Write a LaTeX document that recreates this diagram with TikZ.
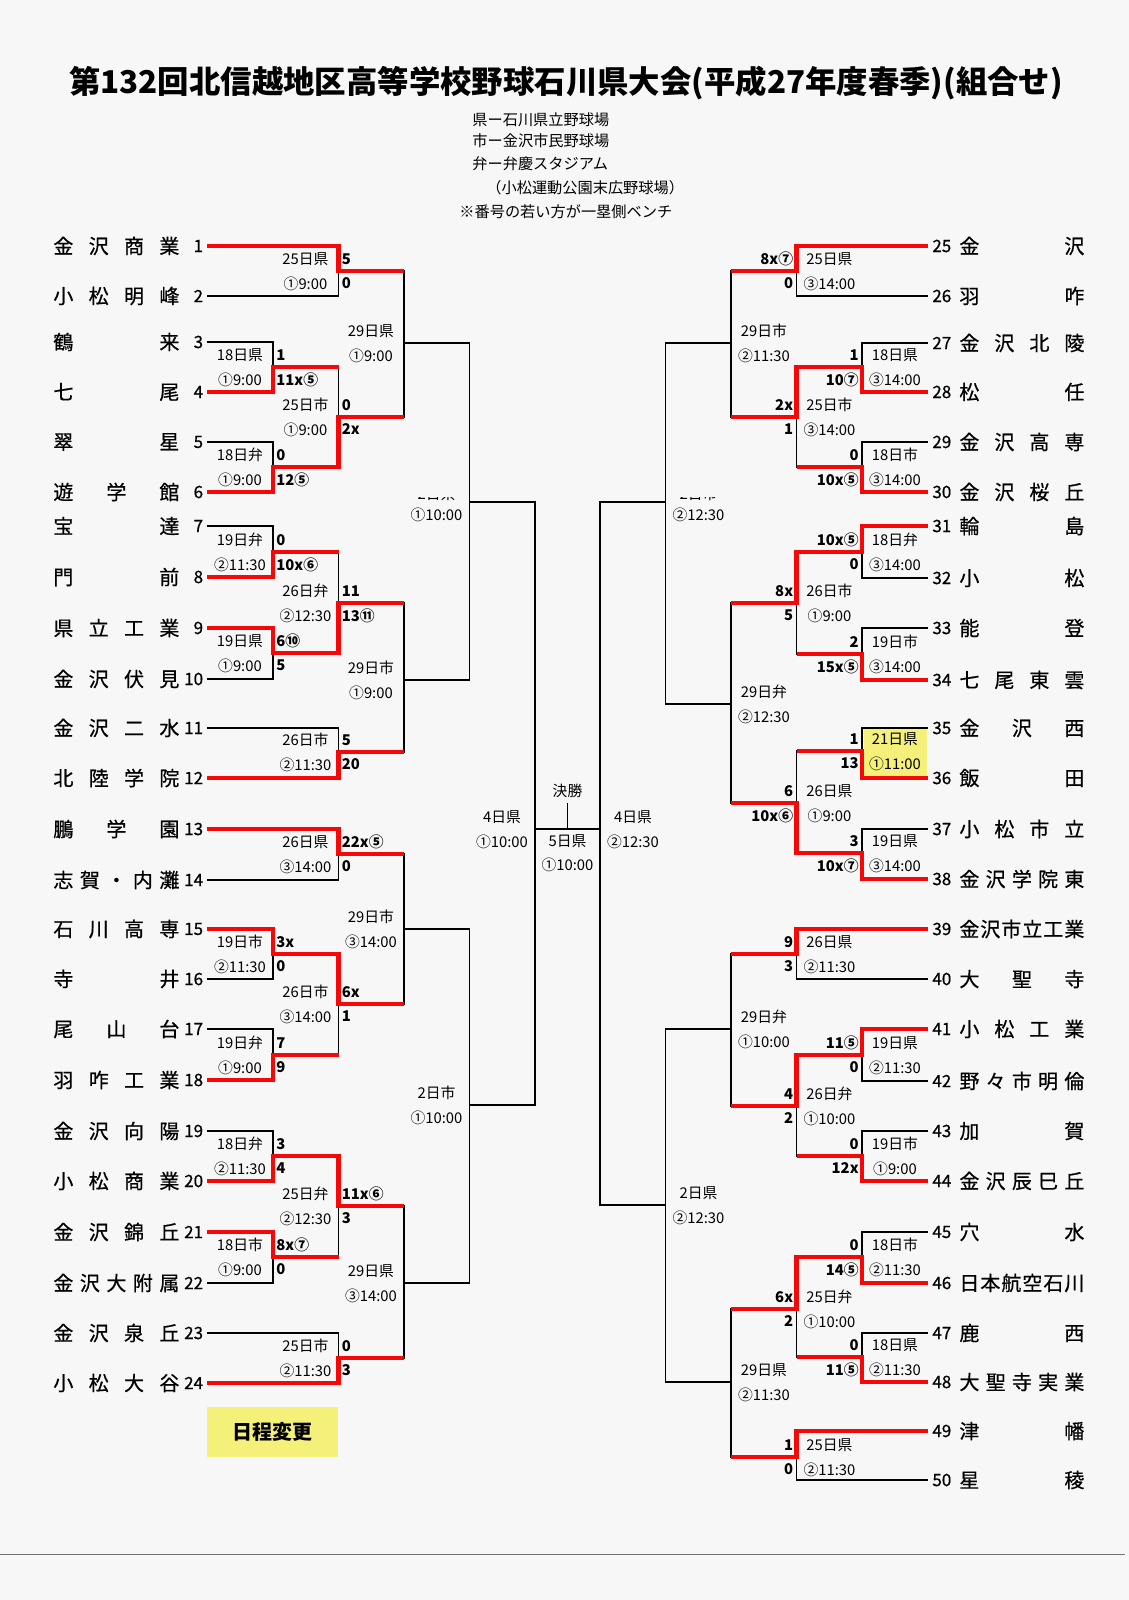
\documentclass[tikz,border=0pt]{standalone}
\usepackage{fontspec}
\usepackage{graphicx}
\setmainfont{Noto Sans CJK JP}
\newfontfamily\nmfont{Noto Sans CJK JP}[FakeBold=0.6]
\definecolor{bg}{RGB}{247,247,247}
\definecolor{bred}{RGB}{245,8,8}
\definecolor{yel}{RGB}{244,240,122}
\newcommand\teamL[3]{%
  \coordinate (t#1) at (207,#2);
  \node[num,anchor=east] (k#1) at (203.5,#2) {#1};
  \node[nm,anchor=west] (n#1) at (53,#2) {\makebox[63pt][s]{#3}};}
\newcommand\teamR[3]{%
  \coordinate (t#1) at (927.5,#2);
  \node[num,anchor=west] (k#1) at (932,#2) {#1};
  \node[nm,anchor=west] (n#1) at (959,#2) {\makebox[62.5pt][s]{#3}};}
\newcommand\glabL[3]{%
  \node[lab] (#1a) at ([shift={(-33,-12)}]#1) {#2};
  \node[lab] (#1b) at ([shift={(-33,12.5)}]#1) {#3};}
\newcommand\glabR[3]{%
  \node[lab] (#1a) at ([shift={(33,-12)}]#1) {#2};
  \node[lab] (#1b) at ([shift={(33,12.5)}]#1) {#3};}
\newcommand\gscL[3]{%
  \node[sc,anchor=west] (#1u) at ([shift={(3,-12)}]#1) {#2};
  \node[sc,anchor=west] (#1v) at ([shift={(3,12.5)}]#1) {#3};}
\newcommand\gscR[3]{%
  \node[sc,anchor=east] (#1u) at ([shift={(-3,-12)}]#1) {#2};
  \node[sc,anchor=east] (#1v) at ([shift={(-3,12.5)}]#1) {#3};}
\tikzset{
  lab/.style={font=\fontsize{7.4}{8}\selectfont, inner sep=0pt},
  sc/.style={font=\fontsize{7.4}{8}\selectfont\bfseries, inner sep=0pt},
  nm/.style={font=\nmfont\fontsize{10}{11}\selectfont, inner sep=0pt},
  num/.style={font=\nmfont\fontsize{8.5}{9}\selectfont, inner sep=0pt},
  note/.style={font=\fontsize{7.6}{8}\selectfont, inner sep=0pt},
  bl/.style={line width=0.9pt, black},
  rd/.style={line width=2.2pt, bred, line join=miter},
}
\begin{document}
\begin{tikzpicture}[x=0.5pt,y=-0.5pt]
\useasboundingbox (0,0) rectangle (1129,1600);
\fill[bg] (0,0) rectangle (1129,1600);

% ---------- title and notes ----------
\node[inner sep=0pt,font=\fontsize{15.7}{16}\selectfont\bfseries] (title) at (566,83)
  {第132回北信越地区高等学校野球石川県大会(平成27年度春季)(組合せ)};
\node[note,anchor=west] (note1) at (472,120) {県ー石川県立野球場};
\node[note,anchor=west] (note2) at (472,141) {市ー金沢市民野球場};
\node[note,anchor=west] (note3) at (472,164) {弁ー弁慶スタジアム};
\node[note,anchor=west] (note4) at (486,188) {（小松運動公園末広野球場）};
\node[note,anchor=west] (note5) at (459,212) {※番号の若い方が一塁側ベンチ};

% ---------- teams ----------
\teamL{1}{246}{金\hfill 沢\hfill 商\hfill 業}
\teamL{2}{296}{小\hfill 松\hfill 明\hfill 峰}
\teamL{3}{342}{鶴\hfill 来}
\teamL{4}{392}{七\hfill 尾}
\teamL{5}{442}{翠\hfill 星}
\teamL{6}{492}{遊\hfill 学\hfill 館}
\teamL{7}{526}{宝\hfill 達}
\teamL{8}{577}{門\hfill 前}
\teamL{9}{628}{県\hfill 立\hfill 工\hfill 業}
\teamL{10}{679}{金\hfill 沢\hfill 伏\hfill 見}
\teamL{11}{728}{金\hfill 沢\hfill 二\hfill 水}
\teamL{12}{778}{北\hfill 陸\hfill 学\hfill 院}
\teamL{13}{829}{鵬\hfill 学\hfill 園}
\teamL{14}{880}{志\hfill 賀\hfill ・\hfill 内\hfill 灘}
\teamL{15}{929}{石\hfill 川\hfill 高\hfill 専}
\teamL{16}{979}{寺\hfill 井}
\teamL{17}{1029}{尾\hfill 山\hfill 台}
\teamL{18}{1080}{羽\hfill 咋\hfill 工\hfill 業}
\teamL{19}{1131}{金\hfill 沢\hfill 向\hfill 陽}
\teamL{20}{1181}{小\hfill 松\hfill 商\hfill 業}
\teamL{21}{1232}{金\hfill 沢\hfill 錦\hfill 丘}
\teamL{22}{1283}{金\hfill 沢\hfill 大\hfill 附\hfill 属}
\teamL{23}{1333}{金\hfill 沢\hfill 泉\hfill 丘}
\teamL{24}{1383}{小\hfill 松\hfill 大\hfill 谷}

\teamR{25}{246}{金\hfill 沢}
\teamR{26}{296}{羽\hfill 咋}
\teamR{27}{343}{金\hfill 沢\hfill 北\hfill 陵}
\teamR{28}{392}{松\hfill 任}
\teamR{29}{442}{金\hfill 沢\hfill 高\hfill 専}
\teamR{30}{492}{金\hfill 沢\hfill 桜\hfill 丘}
\teamR{31}{526}{輪\hfill 島}
\teamR{32}{578}{小\hfill 松}
\teamR{33}{628}{能\hfill 登}
\teamR{34}{680}{七\hfill 尾\hfill 東\hfill 雲}
\teamR{35}{728}{金\hfill 沢\hfill 西}
\teamR{36}{778}{飯\hfill 田}
\teamR{37}{829}{小\hfill 松\hfill 市\hfill 立}
\teamR{38}{879}{金\hfill 沢\hfill 学\hfill 院\hfill 東}
\teamR{39}{929}{金\hfill 沢\hfill 市\hfill 立\hfill 工\hfill 業}
\teamR{40}{979}{大\hfill 聖\hfill 寺}
\teamR{41}{1029}{小\hfill 松\hfill 工\hfill 業}
\teamR{42}{1081}{野\hfill 々\hfill 市\hfill 明\hfill 倫}
\teamR{43}{1131}{加\hfill 賀}
\teamR{44}{1181}{金\hfill 沢\hfill 辰\hfill 巳\hfill 丘}
\teamR{45}{1232}{穴\hfill 水}
\teamR{46}{1283}{日\hfill 本\hfill 航\hfill 空\hfill 石\hfill 川}
\teamR{47}{1333}{鹿\hfill 西}
\teamR{48}{1382}{大\hfill 聖\hfill 寺\hfill 実\hfill 業}
\teamR{49}{1431}{津\hfill 幡}
\teamR{50}{1480}{星\hfill 稜}

% ---------- game points ----------
\coordinate (gA) at (338.5,271);  \coordinate (gB) at (273,367);
\coordinate (gC) at (273,467);    \coordinate (gD) at (338.5,417);
\coordinate (gE) at (404,343);    \coordinate (gF) at (273,552);
\coordinate (gG) at (273,653);    \coordinate (gH) at (338.5,603);
\coordinate (gI) at (338.5,752);  \coordinate (gJ) at (404,680);
\coordinate (gK) at (469.5,502);  \coordinate (gL) at (338.5,854);
\coordinate (gM) at (273,954);    \coordinate (gN) at (273,1055);
\coordinate (gO) at (338.5,1004); \coordinate (gP) at (404,929);
\coordinate (gQ) at (273,1156);   \coordinate (gR) at (273,1257);
\coordinate (gS) at (338.5,1206); \coordinate (gT) at (338.5,1358);
\coordinate (gU) at (404,1283);   \coordinate (gV) at (469.5,1105);
\coordinate (qL) at (535,829);    \coordinate (qR) at (600,829);
\coordinate (fin) at (567.5,829); \coordinate (finT) at (567.5,803);
\coordinate (hA) at (796.5,271);  \coordinate (hB) at (862,367);
\coordinate (hC) at (862,467);    \coordinate (hD) at (796.5,417);
\coordinate (hE) at (731,343);    \coordinate (hF) at (862,552);
\coordinate (hG) at (862,654);    \coordinate (hH) at (796.5,603);
\coordinate (hI) at (862,751);    \coordinate (hJ) at (862,853);
\coordinate (hK) at (796.5,803);  \coordinate (hL) at (731,704);
\coordinate (hM) at (665.5,502);  \coordinate (hN) at (796.5,954);
\coordinate (hO) at (862,1055);   \coordinate (hP) at (862,1156);
\coordinate (hQ) at (796.5,1106); \coordinate (hR) at (731,1029);
\coordinate (hS) at (862,1257);   \coordinate (hT) at (862,1357);
\coordinate (hU) at (796.5,1309); \coordinate (hV) at (796.5,1457);
\coordinate (hW) at (731,1382);   \coordinate (hX) at (665.5,1205);

% yellow boxes
\fill[yel] (864,729) rectangle (927,777);
\node[fill=yel,minimum width=65.25pt,minimum height=25pt,inner sep=0pt,
  font=\fontsize{10}{11}\selectfont\bfseries] (chg) at (272.25,1432) {日程変更};

% ---------- black bracket ----------
\draw[bl] (t1) -| (gA) |- (t2);   \draw[bl] (t3) -| (gB) |- (t4);
\draw[bl] (t5) -| (gC) |- (t6);   \draw[bl] (gB) -| (gD) |- (gC);
\draw[bl] (gA) -| (gE) |- (gD);   \draw[bl] (t7) -| (gF) |- (t8);
\draw[bl] (t9) -| (gG) |- (t10);  \draw[bl] (gF) -| (gH) |- (gG);
\draw[bl] (t11) -| (gI) |- (t12); \draw[bl] (gH) -| (gJ) |- (gI);
\draw[bl] (gE) -| (gK) |- (gJ);   \draw[bl] (t13) -| (gL) |- (t14);
\draw[bl] (t15) -| (gM) |- (t16); \draw[bl] (t17) -| (gN) |- (t18);
\draw[bl] (gM) -| (gO) |- (gN);   \draw[bl] (gL) -| (gP) |- (gO);
\draw[bl] (t19) -| (gQ) |- (t20); \draw[bl] (t21) -| (gR) |- (t22);
\draw[bl] (gQ) -| (gS) |- (gR);   \draw[bl] (t23) -| (gT) |- (t24);
\draw[bl] (gS) -| (gU) |- (gT);   \draw[bl] (gP) -| (gV) |- (gU);
\draw[bl] (gK) -| (qL) |- (gV);
\draw[bl] (qL) -- (qR);  \draw[bl] (fin) -- (finT);
\draw[bl] (hM) -| (qR) |- (hX);
\draw[bl] (t25) -| (hA) |- (t26); \draw[bl] (t27) -| (hB) |- (t28);
\draw[bl] (t29) -| (hC) |- (t30); \draw[bl] (hB) -| (hD) |- (hC);
\draw[bl] (hA) -| (hE) |- (hD);   \draw[bl] (t31) -| (hF) |- (t32);
\draw[bl] (t33) -| (hG) |- (t34); \draw[bl] (hF) -| (hH) |- (hG);
\draw[bl] (t35) -| (hI) |- (t36); \draw[bl] (t37) -| (hJ) |- (t38);
\draw[bl] (hI) -| (hK) |- (hJ);   \draw[bl] (hH) -| (hL) |- (hK);
\draw[bl] (hE) -| (hM) |- (hL);   \draw[bl] (t39) -| (hN) |- (t40);
\draw[bl] (t41) -| (hO) |- (t42); \draw[bl] (t43) -| (hP) |- (t44);
\draw[bl] (hO) -| (hQ) |- (hP);   \draw[bl] (hN) -| (hR) |- (hQ);
\draw[bl] (t45) -| (hS) |- (t46); \draw[bl] (t47) -| (hT) |- (t48);
\draw[bl] (hS) -| (hU) |- (hT);   \draw[bl] (t49) -| (hV) |- (t50);
\draw[bl] (hU) -| (hW) |- (hV);   \draw[bl] (hR) -| (hX) |- (hW);

% ---------- red winner lines ----------
\draw[rd] (t1) -| (gA) -- (gE |- gA);
\draw[rd] (t4) -| (gB) -- (gD |- gB);
\draw[rd] (t6) -| (gC) -| (gD) -- (gE |- gD);
\draw[rd] (t8) -| (gF) -- (gH |- gF);
\draw[rd] (t9) -| (gG) -| (gH) -- (gJ |- gH);
\draw[rd] (t12) -| (gI) -- (gJ |- gI);
\draw[rd] (t13) -| (gL) -- (gP |- gL);
\draw[rd] (t15) -| (gM) -| (gO) -- (gP |- gO);
\draw[rd] (t18) -| (gN) -- (gO |- gN);
\draw[rd] (t20) -| (gQ) -| (gS) -- (gU |- gS);
\draw[rd] (t21) -| (gR) -- (gS |- gR);
\draw[rd] (t24) -| (gT) -- (gU |- gT);
\draw[rd] (t25) -| (hA) -- (hE |- hA);
\draw[rd] (t28) -| (hB) -| (hD) -- (hE |- hD);
\draw[rd] (t30) -| (hC) -- (hD |- hC);
\draw[rd] (t31) -| (hF) -| (hH) -- (hL |- hH);
\draw[rd] (t34) -| (hG) -- (hH |- hG);
\draw[rd] (t36) -| (hI) -- (hK |- hI);
\draw[rd] (t38) -| (hJ) -| (hK) -- (hL |- hK);
\draw[rd] (t39) -| (hN) -- (hR |- hN);
\draw[rd] (t41) -| (hO) -| (hQ) -- (hR |- hQ);
\draw[rd] (t44) -| (hP) -- (hQ |- hP);
\draw[rd] (t46) -| (hS) -| (hU) -- (hW |- hU);
\draw[rd] (t48) -| (hT) -- (hU |- hT);
\draw[rd] (t49) -| (hV) -- (hW |- hV);

% ---------- labels left ----------
\glabL{gA}{25日県}{①9:00}   \gscL{gA}{5}{0}
\glabL{gB}{18日県}{①9:00}   \gscL{gB}{1}{11x⑤}
\glabL{gC}{18日弁}{①9:00}   \gscL{gC}{0}{12⑤}
\glabL{gD}{25日市}{①9:00}   \gscL{gD}{0}{2x}
\glabL{gE}{29日県}{①9:00}
\glabL{gF}{19日弁}{②11:30}  \gscL{gF}{0}{10x⑥}
\glabL{gG}{19日県}{①9:00}   \gscL{gG}{6⑩}{5}
\glabL{gH}{26日弁}{②12:30}  \gscL{gH}{11}{13⑪}
\glabL{gI}{26日市}{②11:30}  \gscL{gI}{5}{20}
\glabL{gJ}{29日市}{①9:00}
\node[lab] (gKb) at ([shift={(-33,12.5)}]gK) {①10:00};
\glabL{gL}{26日県}{③14:00}  \gscL{gL}{22x⑤}{0}
\glabL{gM}{19日市}{②11:30}  \gscL{gM}{3x}{0}
\glabL{gN}{19日弁}{①9:00}   \gscL{gN}{7}{9}
\glabL{gO}{26日市}{③14:00}  \gscL{gO}{6x}{1}
\glabL{gP}{29日市}{③14:00}
\glabL{gQ}{18日弁}{②11:30}  \gscL{gQ}{3}{4}
\glabL{gR}{18日市}{①9:00}   \gscL{gR}{8x⑦}{0}
\glabL{gS}{25日弁}{②12:30}  \gscL{gS}{11x⑥}{3}
\glabL{gT}{25日市}{②11:30}  \gscL{gT}{0}{3}
\glabL{gU}{29日県}{③14:00}
\glabL{gV}{2日市}{①10:00}
\glabL{qL}{4日県}{①10:00}

% ---------- labels right ----------
\glabR{hA}{25日県}{③14:00}  \gscR{hA}{8x⑦}{0}
\glabR{hB}{18日県}{③14:00}  \gscR{hB}{1}{10⑦}
\glabR{hC}{18日市}{③14:00}  \gscR{hC}{0}{10x⑤}
\glabR{hD}{25日市}{③14:00}  \gscR{hD}{2x}{1}
\glabR{hE}{29日市}{②11:30}
\glabR{hF}{18日弁}{③14:00}  \gscR{hF}{10x⑤}{0}
\glabR{hG}{19日市}{③14:00}  \gscR{hG}{2}{15x⑤}
\glabR{hH}{26日市}{①9:00}   \gscR{hH}{8x}{5}
\glabR{hI}{21日県}{①11:00}  \gscR{hI}{1}{13}
\glabR{hJ}{19日県}{③14:00}  \gscR{hJ}{3}{10x⑦}
\glabR{hK}{26日県}{①9:00}   \gscR{hK}{6}{10x⑥}
\glabR{hL}{29日弁}{②12:30}
\node[lab] (hMb) at ([shift={(33,12.5)}]hM) {②12:30};
\glabR{hN}{26日県}{②11:30}  \gscR{hN}{9}{3}
\glabR{hO}{19日県}{②11:30}  \gscR{hO}{11⑤}{0}
\glabR{hP}{19日市}{①9:00}   \gscR{hP}{0}{12x}
\glabR{hQ}{26日弁}{①10:00}  \gscR{hQ}{4}{2}
\glabR{hR}{29日弁}{①10:00}
\glabR{hS}{18日市}{②11:30}  \gscR{hS}{0}{14⑤}
\glabR{hT}{18日県}{②11:30}  \gscR{hT}{0}{11⑤}
\glabR{hU}{25日弁}{①10:00}  \gscR{hU}{6x}{2}
\glabR{hV}{25日県}{②11:30}  \gscR{hV}{1}{0}
\glabR{hW}{29日県}{②11:30}
\glabR{hX}{2日県}{②12:30}
\glabR{qR}{4日県}{②12:30}

% partly hidden labels
\begin{scope}
  \clip (380,497.5) rectangle (760,505);
  \node[lab] (gKa) at ([shift={(-33,-8)}]gK) {2日県};
  \node[lab] (hMa) at ([shift={(33,-8)}]hM) {2日市};
\end{scope}

% final
\node[lab] (finA) at ([shift={(0,-38)}]fin) {決勝};
\node[lab] (finB) at ([shift={(0,12)}]fin) {5日県};
\node[lab] (finC) at ([shift={(0,36)}]fin) {①10:00};

% bottom rule
\coordinate (rule1) at (0,1554);
\coordinate (rule2) at (1125,1554);
\draw[line width=0.5pt, black!55] (rule1) -- (rule2);
\end{tikzpicture}
\end{document}
